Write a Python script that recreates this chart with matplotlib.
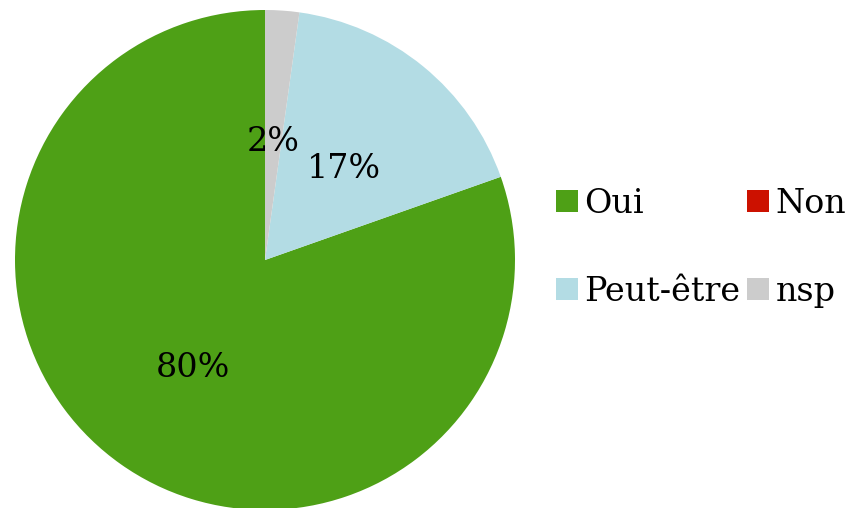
import matplotlib.pyplot as plt
from matplotlib.patches import Patch

labels = ['Oui', 'Non', 'Peut-être', 'nsp']
values = [80.4, 0.0, 17.4, 2.2]
colors = ['#4ea016', '#cc1100', '#b3dce4', '#cccccc']

plt.rcParams['font.family'] = ['DejaVu Serif']

fig = plt.figure(figsize=(8.54, 5.08), dpi=100)
ax = fig.add_axes([15 / 854, -2 / 508, 500 / 854, 500 / 508])


def fmt(p):
    return '%.0f%%' % p if p > 0.5 else ''


wedges, texts, autotexts = ax.pie(values, colors=colors, startangle=90,
                                  counterclock=True, autopct=fmt,
                                  pctdistance=0.5, radius=1.0,
                                  textprops={'fontsize': 24, 'color': 'black'})
# labels sit a touch lower in the original
for t in autotexts:
    x, y = t.get_position()
    t.set_position((x, y - 0.025))

ax.set_xlim(-1, 1)
ax.set_ylim(-1, 1)
ax.set_aspect('equal')

# legend fills column by column: put Oui / Peut-être in the first column
order = [0, 2, 1, 3]
handles = [Patch(facecolor=colors[i], edgecolor='none') for i in order]
fig.legend(handles, [labels[i] for i in order], loc='center left',
           bbox_to_anchor=(556 / 854, (508 - 248) / 508), ncol=2,
           frameon=False, fontsize=24, borderpad=0, borderaxespad=0,
           handlelength=0.65, handleheight=0.65, handletextpad=0.2,
           columnspacing=0.2, labelspacing=1.68)

fig.savefig('out.png', dpi=100)
